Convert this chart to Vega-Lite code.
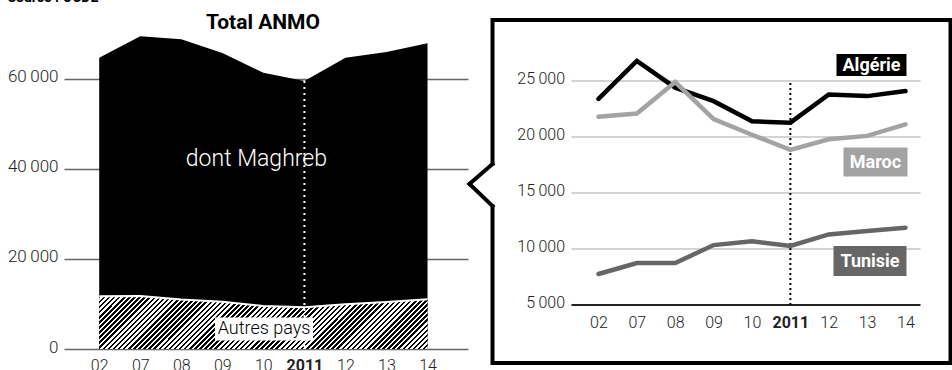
{
  "$schema": "https://vega.github.io/schema/vega-lite/v6.json",
  "background": "white",
  "padding": {"left": 7, "top": -9, "right": 0, "bottom": 0},
  "title": {"text": "Source : OCDE", "anchor": "start", "frame": "bounds", "fontSize": 14, "fontWeight": "bold", "font": "Roboto", "color": "#000", "offset": 7},
  "config": {"font": "Roboto", "view": {"stroke": null}, "axis": {"labelFont": "Roboto", "labelColor": "#222"}},
  "datasets": {
    "total": [
      {"annee": "02", "i": 0, "total": 64700, "autres": 11750},
      {"annee": "07", "i": 1, "total": 69500, "autres": 11800},
      {"annee": "08", "i": 2, "total": 68850, "autres": 11000},
      {"annee": "09", "i": 3, "total": 65800, "autres": 10500},
      {"annee": "10", "i": 4, "total": 61400, "autres": 9550},
      {"annee": "2011", "i": 5, "total": 59550, "autres": 9300},
      {"annee": "12", "i": 6, "total": 64700, "autres": 9950},
      {"annee": "13", "i": 7, "total": 66000, "autres": 10450},
      {"annee": "14", "i": 8, "total": 67950, "autres": 11050}
    ],
    "pays": [
      {"annee": "02", "i": 0, "pays": "Algérie", "v": 23400},
      {"annee": "07", "i": 1, "pays": "Algérie", "v": 26800},
      {"annee": "08", "i": 2, "pays": "Algérie", "v": 24400},
      {"annee": "09", "i": 3, "pays": "Algérie", "v": 23200},
      {"annee": "10", "i": 4, "pays": "Algérie", "v": 21400},
      {"annee": "2011", "i": 5, "pays": "Algérie", "v": 21280},
      {"annee": "12", "i": 6, "pays": "Algérie", "v": 23800},
      {"annee": "13", "i": 7, "pays": "Algérie", "v": 23650},
      {"annee": "14", "i": 8, "pays": "Algérie", "v": 24100},
      {"annee": "02", "i": 0, "pays": "Maroc", "v": 21800},
      {"annee": "07", "i": 1, "pays": "Maroc", "v": 22100},
      {"annee": "08", "i": 2, "pays": "Maroc", "v": 24900},
      {"annee": "09", "i": 3, "pays": "Maroc", "v": 21600},
      {"annee": "10", "i": 4, "pays": "Maroc", "v": 20200},
      {"annee": "2011", "i": 5, "pays": "Maroc", "v": 18850},
      {"annee": "12", "i": 6, "pays": "Maroc", "v": 19800},
      {"annee": "13", "i": 7, "pays": "Maroc", "v": 20100},
      {"annee": "14", "i": 8, "pays": "Maroc", "v": 21130},
      {"annee": "02", "i": 0, "pays": "Tunisie", "v": 7770},
      {"annee": "07", "i": 1, "pays": "Tunisie", "v": 8750},
      {"annee": "08", "i": 2, "pays": "Tunisie", "v": 8750},
      {"annee": "09", "i": 3, "pays": "Tunisie", "v": 10350},
      {"annee": "10", "i": 4, "pays": "Tunisie", "v": 10700},
      {"annee": "2011", "i": 5, "pays": "Tunisie", "v": 10270},
      {"annee": "12", "i": 6, "pays": "Tunisie", "v": 11300},
      {"annee": "13", "i": 7, "pays": "Tunisie", "v": 11600},
      {"annee": "14", "i": 8, "pays": "Tunisie", "v": 11900}
    ]
  },
  "spacing": 24.5,
  "bounds": "flush",
  "hconcat": [
    {
      "width": 404,
      "height": 329,
      "layer": [
        {
          "data": {"name": "total"},
          "mark": {"type": "area", "color": "#000"},
          "encoding": {
            "x": {"field": "i", "type": "quantitative",
              "scale": {"domain": [-0.858, 8.986], "nice": false, "zero": false},
              "axis": {"values": [0, 1, 2, 3, 4, 5, 6, 7, 8], "labelExpr": "['02','07','08','09','10','2011','12','13','14'][datum.value]", "domain": false, "ticks": false, "grid": false, "labelFontSize": 16, "labelFontWeight": {"condition": {"test": "datum.value === 5", "value": "bold"}, "value": 300}, "labelPadding": 8, "labelColor": "#222", "title": null}},
            "y": {"field": "total", "type": "quantitative",
              "scale": {"domain": [0, 73111], "nice": false, "zero": false},
              "axis": {"values": [0, 20000, 40000, 60000], "grid": true, "gridColor": "#666", "gridWidth": 1.5, "domain": false, "ticks": false, "labelFontSize": 17, "labelFontWeight": 300, "labelPadding": 6, "labelOffset": -2, "labelExpr": "replace(format(datum.value, ','), ',', '\u2009')", "title": null}}
          }
        },
        {
          "data": {"name": "total"},
          "mark": {"type": "area", "fill": {"gradient": "linear", "x1": 0, "y1": 0, "x2": 1.132, "y2": 0.183, "stops": [
            {"offset": 0, "color": "#000"}, {"offset": 0.00667, "color": "#000"},
            {"offset": 0.00667, "color": "#fff"}, {"offset": 0.01333, "color": "#fff"},
            {"offset": 0.01333, "color": "#000"}, {"offset": 0.02, "color": "#000"},
            {"offset": 0.02, "color": "#fff"}, {"offset": 0.02667, "color": "#fff"},
            {"offset": 0.02667, "color": "#000"}, {"offset": 0.03333, "color": "#000"},
            {"offset": 0.03333, "color": "#fff"}, {"offset": 0.04, "color": "#fff"},
            {"offset": 0.04, "color": "#000"}, {"offset": 0.04667, "color": "#000"},
            {"offset": 0.04667, "color": "#fff"}, {"offset": 0.05333, "color": "#fff"},
            {"offset": 0.05333, "color": "#000"}, {"offset": 0.06, "color": "#000"},
            {"offset": 0.06, "color": "#fff"}, {"offset": 0.06667, "color": "#fff"},
            {"offset": 0.06667, "color": "#000"}, {"offset": 0.07333, "color": "#000"},
            {"offset": 0.07333, "color": "#fff"}, {"offset": 0.08, "color": "#fff"},
            {"offset": 0.08, "color": "#000"}, {"offset": 0.08667, "color": "#000"},
            {"offset": 0.08667, "color": "#fff"}, {"offset": 0.09333, "color": "#fff"},
            {"offset": 0.09333, "color": "#000"}, {"offset": 0.1, "color": "#000"},
            {"offset": 0.1, "color": "#fff"}, {"offset": 0.10667, "color": "#fff"},
            {"offset": 0.10667, "color": "#000"}, {"offset": 0.11333, "color": "#000"},
            {"offset": 0.11333, "color": "#fff"}, {"offset": 0.12, "color": "#fff"},
            {"offset": 0.12, "color": "#000"}, {"offset": 0.12667, "color": "#000"},
            {"offset": 0.12667, "color": "#fff"}, {"offset": 0.13333, "color": "#fff"},
            {"offset": 0.13333, "color": "#000"}, {"offset": 0.14, "color": "#000"},
            {"offset": 0.14, "color": "#fff"}, {"offset": 0.14667, "color": "#fff"},
            {"offset": 0.14667, "color": "#000"}, {"offset": 0.15333, "color": "#000"},
            {"offset": 0.15333, "color": "#fff"}, {"offset": 0.16, "color": "#fff"},
            {"offset": 0.16, "color": "#000"}, {"offset": 0.16667, "color": "#000"},
            {"offset": 0.16667, "color": "#fff"}, {"offset": 0.17333, "color": "#fff"},
            {"offset": 0.17333, "color": "#000"}, {"offset": 0.18, "color": "#000"},
            {"offset": 0.18, "color": "#fff"}, {"offset": 0.18667, "color": "#fff"},
            {"offset": 0.18667, "color": "#000"}, {"offset": 0.19333, "color": "#000"},
            {"offset": 0.19333, "color": "#fff"}, {"offset": 0.2, "color": "#fff"},
            {"offset": 0.2, "color": "#000"}, {"offset": 0.20667, "color": "#000"},
            {"offset": 0.20667, "color": "#fff"}, {"offset": 0.21333, "color": "#fff"},
            {"offset": 0.21333, "color": "#000"}, {"offset": 0.22, "color": "#000"},
            {"offset": 0.22, "color": "#fff"}, {"offset": 0.22667, "color": "#fff"},
            {"offset": 0.22667, "color": "#000"}, {"offset": 0.23333, "color": "#000"},
            {"offset": 0.23333, "color": "#fff"}, {"offset": 0.24, "color": "#fff"},
            {"offset": 0.24, "color": "#000"}, {"offset": 0.24667, "color": "#000"},
            {"offset": 0.24667, "color": "#fff"}, {"offset": 0.25333, "color": "#fff"},
            {"offset": 0.25333, "color": "#000"}, {"offset": 0.26, "color": "#000"},
            {"offset": 0.26, "color": "#fff"}, {"offset": 0.26667, "color": "#fff"},
            {"offset": 0.26667, "color": "#000"}, {"offset": 0.27333, "color": "#000"},
            {"offset": 0.27333, "color": "#fff"}, {"offset": 0.28, "color": "#fff"},
            {"offset": 0.28, "color": "#000"}, {"offset": 0.28667, "color": "#000"},
            {"offset": 0.28667, "color": "#fff"}, {"offset": 0.29333, "color": "#fff"},
            {"offset": 0.29333, "color": "#000"}, {"offset": 0.3, "color": "#000"},
            {"offset": 0.3, "color": "#fff"}, {"offset": 0.30667, "color": "#fff"},
            {"offset": 0.30667, "color": "#000"}, {"offset": 0.31333, "color": "#000"},
            {"offset": 0.31333, "color": "#fff"}, {"offset": 0.32, "color": "#fff"},
            {"offset": 0.32, "color": "#000"}, {"offset": 0.32667, "color": "#000"},
            {"offset": 0.32667, "color": "#fff"}, {"offset": 0.33333, "color": "#fff"},
            {"offset": 0.33333, "color": "#000"}, {"offset": 0.34, "color": "#000"},
            {"offset": 0.34, "color": "#fff"}, {"offset": 0.34667, "color": "#fff"},
            {"offset": 0.34667, "color": "#000"}, {"offset": 0.35333, "color": "#000"},
            {"offset": 0.35333, "color": "#fff"}, {"offset": 0.36, "color": "#fff"},
            {"offset": 0.36, "color": "#000"}, {"offset": 0.36667, "color": "#000"},
            {"offset": 0.36667, "color": "#fff"}, {"offset": 0.37333, "color": "#fff"},
            {"offset": 0.37333, "color": "#000"}, {"offset": 0.38, "color": "#000"},
            {"offset": 0.38, "color": "#fff"}, {"offset": 0.38667, "color": "#fff"},
            {"offset": 0.38667, "color": "#000"}, {"offset": 0.39333, "color": "#000"},
            {"offset": 0.39333, "color": "#fff"}, {"offset": 0.4, "color": "#fff"},
            {"offset": 0.4, "color": "#000"}, {"offset": 0.40667, "color": "#000"},
            {"offset": 0.40667, "color": "#fff"}, {"offset": 0.41333, "color": "#fff"},
            {"offset": 0.41333, "color": "#000"}, {"offset": 0.42, "color": "#000"},
            {"offset": 0.42, "color": "#fff"}, {"offset": 0.42667, "color": "#fff"},
            {"offset": 0.42667, "color": "#000"}, {"offset": 0.43333, "color": "#000"},
            {"offset": 0.43333, "color": "#fff"}, {"offset": 0.44, "color": "#fff"},
            {"offset": 0.44, "color": "#000"}, {"offset": 0.44667, "color": "#000"},
            {"offset": 0.44667, "color": "#fff"}, {"offset": 0.45333, "color": "#fff"},
            {"offset": 0.45333, "color": "#000"}, {"offset": 0.46, "color": "#000"},
            {"offset": 0.46, "color": "#fff"}, {"offset": 0.46667, "color": "#fff"},
            {"offset": 0.46667, "color": "#000"}, {"offset": 0.47333, "color": "#000"},
            {"offset": 0.47333, "color": "#fff"}, {"offset": 0.48, "color": "#fff"},
            {"offset": 0.48, "color": "#000"}, {"offset": 0.48667, "color": "#000"},
            {"offset": 0.48667, "color": "#fff"}, {"offset": 0.49333, "color": "#fff"},
            {"offset": 0.49333, "color": "#000"}, {"offset": 0.5, "color": "#000"},
            {"offset": 0.5, "color": "#fff"}, {"offset": 0.50667, "color": "#fff"},
            {"offset": 0.50667, "color": "#000"}, {"offset": 0.51333, "color": "#000"},
            {"offset": 0.51333, "color": "#fff"}, {"offset": 0.52, "color": "#fff"},
            {"offset": 0.52, "color": "#000"}, {"offset": 0.52667, "color": "#000"},
            {"offset": 0.52667, "color": "#fff"}, {"offset": 0.53333, "color": "#fff"},
            {"offset": 0.53333, "color": "#000"}, {"offset": 0.54, "color": "#000"},
            {"offset": 0.54, "color": "#fff"}, {"offset": 0.54667, "color": "#fff"},
            {"offset": 0.54667, "color": "#000"}, {"offset": 0.55333, "color": "#000"},
            {"offset": 0.55333, "color": "#fff"}, {"offset": 0.56, "color": "#fff"},
            {"offset": 0.56, "color": "#000"}, {"offset": 0.56667, "color": "#000"},
            {"offset": 0.56667, "color": "#fff"}, {"offset": 0.57333, "color": "#fff"},
            {"offset": 0.57333, "color": "#000"}, {"offset": 0.58, "color": "#000"},
            {"offset": 0.58, "color": "#fff"}, {"offset": 0.58667, "color": "#fff"},
            {"offset": 0.58667, "color": "#000"}, {"offset": 0.59333, "color": "#000"},
            {"offset": 0.59333, "color": "#fff"}, {"offset": 0.6, "color": "#fff"},
            {"offset": 0.6, "color": "#000"}, {"offset": 0.60667, "color": "#000"},
            {"offset": 0.60667, "color": "#fff"}, {"offset": 0.61333, "color": "#fff"},
            {"offset": 0.61333, "color": "#000"}, {"offset": 0.62, "color": "#000"},
            {"offset": 0.62, "color": "#fff"}, {"offset": 0.62667, "color": "#fff"},
            {"offset": 0.62667, "color": "#000"}, {"offset": 0.63333, "color": "#000"},
            {"offset": 0.63333, "color": "#fff"}, {"offset": 0.64, "color": "#fff"},
            {"offset": 0.64, "color": "#000"}, {"offset": 0.64667, "color": "#000"},
            {"offset": 0.64667, "color": "#fff"}, {"offset": 0.65333, "color": "#fff"},
            {"offset": 0.65333, "color": "#000"}, {"offset": 0.66, "color": "#000"},
            {"offset": 0.66, "color": "#fff"}, {"offset": 0.66667, "color": "#fff"},
            {"offset": 0.66667, "color": "#000"}, {"offset": 0.67333, "color": "#000"},
            {"offset": 0.67333, "color": "#fff"}, {"offset": 0.68, "color": "#fff"},
            {"offset": 0.68, "color": "#000"}, {"offset": 0.68667, "color": "#000"},
            {"offset": 0.68667, "color": "#fff"}, {"offset": 0.69333, "color": "#fff"},
            {"offset": 0.69333, "color": "#000"}, {"offset": 0.7, "color": "#000"},
            {"offset": 0.7, "color": "#fff"}, {"offset": 0.70667, "color": "#fff"},
            {"offset": 0.70667, "color": "#000"}, {"offset": 0.71333, "color": "#000"},
            {"offset": 0.71333, "color": "#fff"}, {"offset": 0.72, "color": "#fff"},
            {"offset": 0.72, "color": "#000"}, {"offset": 0.72667, "color": "#000"},
            {"offset": 0.72667, "color": "#fff"}, {"offset": 0.73333, "color": "#fff"},
            {"offset": 0.73333, "color": "#000"}, {"offset": 0.74, "color": "#000"},
            {"offset": 0.74, "color": "#fff"}, {"offset": 0.74667, "color": "#fff"},
            {"offset": 0.74667, "color": "#000"}, {"offset": 0.75333, "color": "#000"},
            {"offset": 0.75333, "color": "#fff"}, {"offset": 0.76, "color": "#fff"},
            {"offset": 0.76, "color": "#000"}, {"offset": 0.76667, "color": "#000"},
            {"offset": 0.76667, "color": "#fff"}, {"offset": 0.77333, "color": "#fff"},
            {"offset": 0.77333, "color": "#000"}, {"offset": 0.78, "color": "#000"},
            {"offset": 0.78, "color": "#fff"}, {"offset": 0.78667, "color": "#fff"},
            {"offset": 0.78667, "color": "#000"}, {"offset": 0.79333, "color": "#000"},
            {"offset": 0.79333, "color": "#fff"}, {"offset": 0.8, "color": "#fff"},
            {"offset": 0.8, "color": "#000"}, {"offset": 0.80667, "color": "#000"},
            {"offset": 0.80667, "color": "#fff"}, {"offset": 0.81333, "color": "#fff"},
            {"offset": 0.81333, "color": "#000"}, {"offset": 0.82, "color": "#000"},
            {"offset": 0.82, "color": "#fff"}, {"offset": 0.82667, "color": "#fff"},
            {"offset": 0.82667, "color": "#000"}, {"offset": 0.83333, "color": "#000"},
            {"offset": 0.83333, "color": "#fff"}, {"offset": 0.84, "color": "#fff"},
            {"offset": 0.84, "color": "#000"}, {"offset": 0.84667, "color": "#000"},
            {"offset": 0.84667, "color": "#fff"}, {"offset": 0.85333, "color": "#fff"},
            {"offset": 0.85333, "color": "#000"}, {"offset": 0.86, "color": "#000"},
            {"offset": 0.86, "color": "#fff"}, {"offset": 0.86667, "color": "#fff"},
            {"offset": 0.86667, "color": "#000"}, {"offset": 0.87333, "color": "#000"},
            {"offset": 0.87333, "color": "#fff"}, {"offset": 0.88, "color": "#fff"},
            {"offset": 0.88, "color": "#000"}, {"offset": 0.88667, "color": "#000"},
            {"offset": 0.88667, "color": "#fff"}, {"offset": 0.89333, "color": "#fff"},
            {"offset": 0.89333, "color": "#000"}, {"offset": 0.9, "color": "#000"},
            {"offset": 0.9, "color": "#fff"}, {"offset": 0.90667, "color": "#fff"},
            {"offset": 0.90667, "color": "#000"}, {"offset": 0.91333, "color": "#000"},
            {"offset": 0.91333, "color": "#fff"}, {"offset": 0.92, "color": "#fff"},
            {"offset": 0.92, "color": "#000"}, {"offset": 0.92667, "color": "#000"},
            {"offset": 0.92667, "color": "#fff"}, {"offset": 0.93333, "color": "#fff"},
            {"offset": 0.93333, "color": "#000"}, {"offset": 0.94, "color": "#000"},
            {"offset": 0.94, "color": "#fff"}, {"offset": 0.94667, "color": "#fff"},
            {"offset": 0.94667, "color": "#000"}, {"offset": 0.95333, "color": "#000"},
            {"offset": 0.95333, "color": "#fff"}, {"offset": 0.96, "color": "#fff"},
            {"offset": 0.96, "color": "#000"}, {"offset": 0.96667, "color": "#000"},
            {"offset": 0.96667, "color": "#fff"}, {"offset": 0.97333, "color": "#fff"},
            {"offset": 0.97333, "color": "#000"}, {"offset": 0.98, "color": "#000"},
            {"offset": 0.98, "color": "#fff"}, {"offset": 0.98667, "color": "#fff"},
            {"offset": 0.98667, "color": "#000"}, {"offset": 0.99333, "color": "#000"},
            {"offset": 0.99333, "color": "#fff"}, {"offset": 1, "color": "#fff"}
          ]}},
          "encoding": {"x": {"field": "i", "type": "quantitative"}, "y": {"field": "autres", "type": "quantitative"}}
        },
        {
          "data": {"name": "total"},
          "mark": {"type": "line", "color": "#fff", "strokeWidth": 2},
          "encoding": {"x": {"field": "i", "type": "quantitative"}, "y": {"field": "autres", "type": "quantitative"}}
        },
        {
          "data": {"name": "total"},
          "transform": [{"filter": "datum.i === 5"}],
          "mark": {"type": "rule", "color": "#fff", "strokeWidth": 2, "strokeDash": [2, 4]},
          "encoding": {"x": {"field": "i", "type": "quantitative"}, "y": {"field": "total", "type": "quantitative"}, "y2": {"datum": 0}}
        },
        {
          "data": {"values": [{}]},
          "mark": {"type": "text", "text": "Total ANMO", "color": "#000", "fontSize": 21, "fontWeight": "bold", "baseline": "alphabetic", "align": "center"},
          "encoding": {"x": {"datum": 3.99}, "y": {"datum": 71111}}
        },
        {
          "data": {"values": [{}]},
          "mark": {"type": "text", "text": "dont Maghreb", "color": "#fff", "fontSize": 23, "fontWeight": 300, "baseline": "middle", "align": "center"},
          "encoding": {"x": {"datum": 3.83}, "y": {"datum": 42222}}
        },
        {
          "data": {"values": [{}]},
          "mark": {"type": "point", "shape": "M-1,-0.235H1V0.235H-1Z", "size": 9604, "filled": true, "color": "#fff", "opacity": 1, "strokeWidth": 0},
          "encoding": {"x": {"datum": 4.016}, "y": {"datum": 4444}}
        },
        {
          "data": {"values": [{}]},
          "mark": {"type": "text", "text": "Autres pays", "color": "#000", "fontSize": 18, "fontWeight": 300, "baseline": "middle", "align": "center"},
          "encoding": {"x": {"datum": 4.016}, "y": {"datum": 4444}}
        }
      ]
    },
    {
      "width": 458,
      "height": 343,
      "view": {"stroke": "#000", "strokeWidth": 4},
      "layer": [
        {
          "data": {"values": [{"g": 10000}, {"g": 15000}, {"g": 20000}, {"g": 25000}]},
          "mark": {"type": "rule", "color": "#a8a8a8", "strokeWidth": 1},
          "encoding": {"x": {"datum": -0.704}, "x2": {"datum": 8.391}, "y": {"field": "g", "type": "quantitative"}}
        },
        {
          "data": {"values": [{}]},
          "mark": {"type": "rule", "color": "#222", "strokeWidth": 2},
          "encoding": {"x": {"datum": -0.704}, "x2": {"datum": 8.391}, "y": {"datum": 5000}}
        },
        {
          "data": {"values": [{}]},
          "mark": {"type": "rule", "color": "#000", "strokeWidth": 2, "strokeDash": [2, 3]},
          "encoding": {"x": {"datum": 5}, "y": {"datum": 5000}, "y2": {"datum": 25000}}
        },
        {
          "data": {"name": "pays"},
          "mark": {"type": "line", "strokeWidth": 4.5, "strokeCap": "round"},
          "encoding": {
            "x": {"field": "i", "type": "quantitative",
              "scale": {"domain": [-2.762, 9.173], "nice": false, "zero": false},
              "axis": {"values": [0, 1, 2, 3, 4, 5, 6, 7, 8], "offset": -58, "labelExpr": "['02','07','08','09','10','2011','12','13','14'][datum.value]", "domain": false, "ticks": false, "grid": false, "labelFontSize": 16, "labelFontWeight": {"condition": {"test": "datum.value === 5", "value": "bold"}, "value": 300}, "labelPadding": 9, "labelColor": "#222", "title": null}},
            "y": {"field": "v", "type": "quantitative",
              "scale": {"domain": [-179, 30446], "nice": false, "zero": false},
              "axis": {"values": [5000, 10000, 15000, 20000, 25000], "offset": -79, "grid": false, "domain": false, "ticks": false, "labelFontSize": 16, "labelFontWeight": 300, "labelPadding": 7, "labelOffset": -2, "labelExpr": "replace(format(datum.value, ','), ',', '\u2009')", "title": null}},
            "color": {"field": "pays", "type": "nominal", "scale": {"domain": ["Algérie", "Maroc", "Tunisie"], "range": ["#000", "#a3a3a3", "#666"]}, "legend": null}
          }
        },
        {
          "data": {"values": [{}]},
          "mark": {"type": "point", "shape": "M-1,-0.314H1V0.314H-1Z", "size": 4900, "filled": true, "color": "#000", "opacity": 1, "strokeWidth": 0},
          "encoding": {"x": {"datum": 7.114}, "y": {"datum": 26429}}
        },
        {
          "data": {"values": [{}]},
          "mark": {"type": "text", "text": "Algérie", "color": "#fff", "fontSize": 18, "fontWeight": "bold", "baseline": "middle", "align": "center", "dy": 1},
          "encoding": {"x": {"datum": 7.114}, "y": {"datum": 26429}}
        },
        {
          "data": {"values": [{}]},
          "mark": {"type": "point", "shape": "M-1,-0.453H1V0.453H-1Z", "size": 4096, "filled": true, "color": "#a3a3a3", "opacity": 1, "strokeWidth": 0},
          "encoding": {"x": {"datum": 7.218}, "y": {"datum": 17768}}
        },
        {
          "data": {"values": [{}]},
          "mark": {"type": "text", "text": "Maroc", "color": "#fff", "fontSize": 18, "fontWeight": "bold", "baseline": "middle", "align": "center", "dy": 1},
          "encoding": {"x": {"datum": 7.218}, "y": {"datum": 17768}}
        },
        {
          "data": {"values": [{}]},
          "mark": {"type": "point", "shape": "M-1,-0.411H1V0.411H-1Z", "size": 5329, "filled": true, "color": "#666", "opacity": 1, "strokeWidth": 0},
          "encoding": {"x": {"datum": 7.075}, "y": {"datum": 8929}}
        },
        {
          "data": {"values": [{}]},
          "mark": {"type": "text", "text": "Tunisie", "color": "#fff", "fontSize": 18, "fontWeight": "bold", "baseline": "middle", "align": "center", "dy": 1},
          "encoding": {"x": {"datum": 7.075}, "y": {"datum": 8929}}
        },
        {
          "data": {"values": [{}]},
          "mark": {"type": "rule", "color": "#fff", "strokeWidth": 7},
          "encoding": {"x": {"datum": -2.762}, "y": {"datum": 17450}, "y2": {"datum": 13980}}
        },
        {
          "data": {"values": [{}]},
          "mark": {"type": "rule", "color": "#000", "strokeWidth": 4, "strokeCap": "square"},
          "encoding": {"x": {"datum": -2.762}, "y": {"datum": 17589}, "x2": {"datum": -3.362}, "y2": {"datum": 15804}}
        },
        {
          "data": {"values": [{}]},
          "mark": {"type": "rule", "color": "#000", "strokeWidth": 4, "strokeCap": "square"},
          "encoding": {"x": {"datum": -3.362}, "y": {"datum": 15804}, "x2": {"datum": -2.762}, "y2": {"datum": 13839}}
        }
      ]
    }
  ]
}
